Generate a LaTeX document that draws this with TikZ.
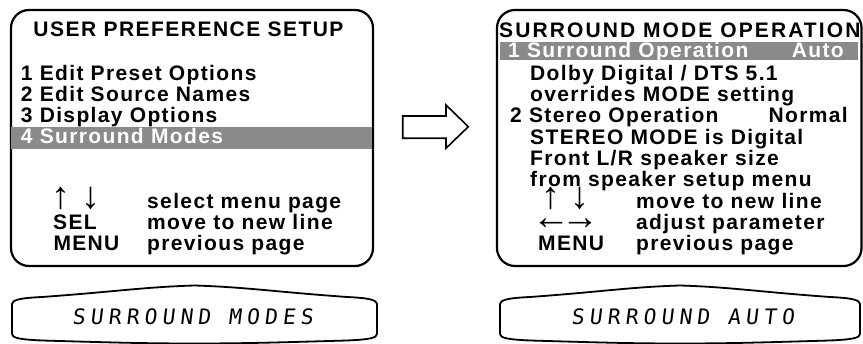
\documentclass[tikz,border=0pt]{standalone}
\usepackage{fontspec}
\newfontfamily\menufont{Liberation Sans}[LetterSpace=6.5]
\newfontfamily\titleAfont{Liberation Sans}[LetterSpace=7]
\newfontfamily\titleBfont{Liberation Sans}[LetterSpace=10]
\newfontfamily\arrowfont{Liberation Sans}
\newfontfamily\lcdfont{DejaVu Sans Mono}[FakeSlant=0.12,LetterSpace=24]
\definecolor{bargray}{RGB}{138,138,138}
\newcommand\lcdoutline[2]{%
 \draw[lcdline] (#1,304) -- (#1,334)
   .. controls (#1,338) and ({#1+8},339.5) .. ({#1+30},340.5)
   .. controls ({#1+100},342.5) and ({(#1+#2)/2-50},343.5) .. ({(#1+#2)/2},343.5)
   .. controls ({(#1+#2)/2+50},343.5) and ({#2-100},342.5) .. ({#2-30},340.5)
   .. controls ({#2-8},339.5) and (#2,338) .. (#2,334)
   -- (#2,304)
   .. controls (#2,300) and ({#2-8},298) .. ({#2-30},297)
   .. controls ({#2-100},292) and ({(#1+#2)/2+50},287) .. ({(#1+#2)/2},285.5)
   .. controls ({(#1+#2)/2-50},287) and ({#1+100},292) .. ({#1+30},297)
   .. controls ({#1+8},298) and (#1,300) .. (#1,304) -- cycle;}
\tikzset{
  screen/.style={draw, line width=2.2pt, rounded corners=18pt, inner sep=0pt},
  lcdline/.style={draw, line width=1.8pt},
  mtxt/.style={inner sep=0pt, anchor=base west, font=\menufont\bfseries\fontsize{21}{24}\selectfont},
  mtxtr/.style={mtxt, anchor=base east},
  ttlA/.style={inner sep=0pt, anchor=base west, font=\titleAfont\bfseries\fontsize{21}{24}\selectfont},
  ttlB/.style={inner sep=0pt, anchor=base west, font=\titleBfont\bfseries\fontsize{21}{24}\selectfont},
  arr/.style={inner sep=0pt, anchor=center, font=\arrowfont\fontsize{38}{40}\selectfont},
  lcdtxt/.style={inner sep=0pt, anchor=base west, font=\lcdfont\fontsize{21.3}{24}\selectfont},
  inv/.style={text=white}
}
\begin{document}
\begin{tikzpicture}[x=1pt,y=-1pt]
\useasboundingbox (0,0) rectangle (863,344);
% screens
\node[screen, minimum width=362pt, minimum height=256pt] (scrL) at (192,138) {};
\node[screen, minimum width=364.5pt, minimum height=256pt] (scrR) at (679.25,138) {};
% highlight bars
\fill[bargray] (11,127.5) rectangle (372,149);
\fill[bargray] (500,42) rectangle (858,60);
% left screen text
\node[ttlA] (titleL) at (33.3,36.7) {USER PREFERENCE SETUP};
\node[mtxt] (l1) at (20.7,80.1) {1 Edit Preset Options};
\node[mtxt] (l2) at (20.7,101.4) {2 Edit Source Names};
\node[mtxt] (l3) at (20.7,122.7) {3 Display Options};
\node[mtxt,inv] (l4) at (20.7,144) {4 Surround Modes};
\node[arr] (upL) at (61,198.5) {↑};
\node[arr] (downL) at (90.5,198.5) {↓};
\node[mtxt] (selL) at (53,229.7) {SEL};
\node[mtxt] (menuL) at (53.3,251) {MENU};
\node[mtxt] (hL1) at (147,208.4) {select menu page};
\node[mtxt] (hL2) at (147,229.7) {move to new line};
\node[mtxt] (hL3) at (147,251) {previous page};
% right screen text
\node[ttlB] (titleR) at (499,37.7) {SURROUND MODE OPERATION};
\node[mtxt,inv] (r1) at (508,58) {1 Surround Operation};
\node[mtxtr,inv] (r1v) at (844,58) {Auto};
\node[mtxt] (r2) at (530,80.3) {Dolby Digital / DTS 5.1};
\node[mtxt] (r3) at (530,101.6) {overrides MODE setting};
\node[mtxt] (r4) at (510,122.9) {2 Stereo Operation};
\node[mtxtr] (r4v) at (848,122.9) {Normal};
\node[mtxt] (r5) at (530,144.2) {STEREO MODE is Digital};
\node[mtxt] (r6) at (530,165.5) {Front L/R speaker size};
\node[mtxt] (r7) at (530,186.8) {from speaker setup menu};
\node[arr] (upR) at (551,198.5) {↑};
\node[arr] (downR) at (580,198.5) {↓};
\node[arr] (lrR) at (566,224.3) {←\kern-9pt→};
\node[mtxt] (menuR) at (538,250.7) {MENU};
\node[mtxt] (hR1) at (636,208.1) {move to new line};
\node[mtxt] (hR2) at (636,229.4) {adjust parameter};
\node[mtxt] (hR3) at (636,250.7) {previous page};
% hollow arrow
\draw[line width=1.6pt, line join=miter] (402.7,116) -- (446,116) -- (446,105) -- (468.3,126.7)
  -- (446,148.3) -- (446,138.3) -- (402.7,138.3) -- cycle;
% LCD displays
\lcdoutline{12}{377}
\lcdoutline{500}{860}
\node[lcdtxt] (lcdL) at (72,325) {SURROUND MODES};
\node[lcdtxt] (lcdR) at (571,325) {SURROUND AUTO};
\end{tikzpicture}
\end{document}
